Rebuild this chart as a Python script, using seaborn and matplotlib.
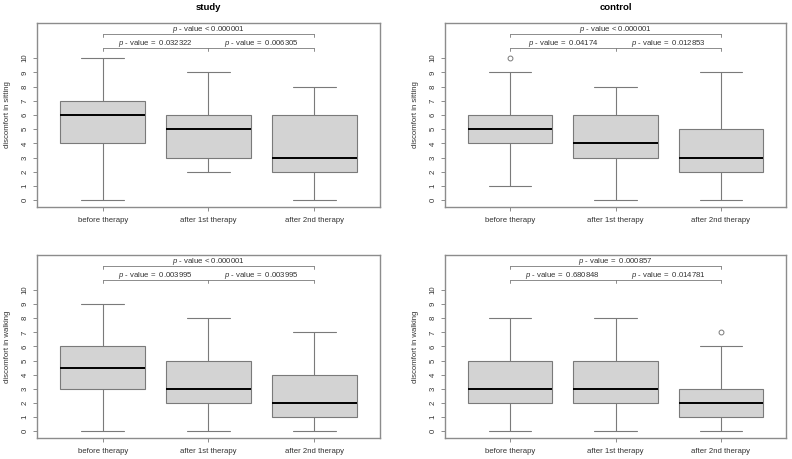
import matplotlib
matplotlib.use('Agg')
import matplotlib.pyplot as plt
import seaborn as sns
import pandas as pd

# categories on the x axis
phases = ['before therapy', 'after 1st therapy', 'after 2nd therapy']

# per-phase scores, chosen so the box summaries match the picture
study_sitting = [[0, 3, 4, 5, 6, 6, 7, 8, 10],
                 [2, 3, 3, 4, 5, 5, 6, 7, 9],
                 [0, 1, 2, 3, 3, 4, 6, 7, 8]]
control_sitting = [[1, 4, 4, 5, 5, 6, 6, 9, 10],
                   [0, 2, 3, 4, 4, 5, 6, 7, 8],
                   [0, 1, 2, 3, 3, 4, 5, 7, 9]]
study_walking = [[0, 3, 3, 3, 4, 5, 6, 6, 6, 9],
                 [0, 1, 2, 3, 3, 4, 5, 6, 8],
                 [0, 1, 1, 2, 2, 3, 4, 5, 7]]
control_walking = [[0, 1, 2, 3, 3, 4, 5, 6, 8],
                   [0, 1, 2, 3, 3, 4, 5, 6, 8],
                   [0, 1, 1, 2, 2, 3, 3, 6, 7]]

# p-value labels: (before vs 1st, 1st vs 2nd, before vs 2nd)
p_study_sitting = ['=  0.032322', '=  0.006305', '< 0.000001']
p_control_sitting = ['=  0.04174', '=  0.012853', '< 0.000001']
p_study_walking = ['=  0.003995', '=  0.003995', '< 0.000001']
p_control_walking = ['=  0.680848', '=  0.014781', '=  0.000857']

sns.set_style('white')
plt.rcParams['font.family'] = ['Liberation Sans', 'DejaVu Sans']
plt.rcParams['mathtext.fontset'] = 'custom'
plt.rcParams['mathtext.rm'] = 'Liberation Sans'
plt.rcParams['mathtext.it'] = 'Liberation Sans:italic'

LINE = '#7a7a7a'
FRAME = '#8c8c8c'
TXT = '#333333'
FS = 5.6


def to_frame(groups):
    rows = []
    for name, vals in zip(phases, groups):
        for v in vals:
            rows.append({'phase': name, 'score': v})
    return pd.DataFrame(rows)


def draw_panel(ax, groups, pvals, ylabel, title=None):
    df = to_frame(groups)
    sns.boxplot(data=df, x='phase', y='score', order=phases, ax=ax,
                color='#d3d3d3', saturation=1, width=0.8,
                linecolor=LINE, linewidth=0.8, whis=1.5,
                medianprops=dict(color='black', linewidth=1.4),
                flierprops=dict(marker='o', markerfacecolor='none',
                                markeredgecolor=LINE, markersize=3.5,
                                markeredgewidth=0.7))
    ax.set_xlim(-0.62, 2.62)
    ax.set_ylim(-0.48, 12.48)
    ax.set_yticks(range(11))
    ax.set_xlabel('')
    ax.set_ylabel(ylabel, fontsize=FS, color=TXT, labelpad=8)
    ax.tick_params(axis='y', left=True, labelrotation=90, labelsize=FS,
                   colors=TXT, length=3, width=0.6, color=LINE, pad=3)
    ax.tick_params(axis='x', bottom=True, labelsize=FS, colors=TXT,
                   length=3, width=0.6, color=LINE, pad=4)
    for lab in ax.get_yticklabels():
        lab.set_va('center')
    for sp in ax.spines.values():
        sp.set_visible(True)
        sp.set_color(FRAME)
        sp.set_linewidth(1.0)

    # comparison brackets
    tick = 0.18
    low, high = 10.7, 11.7
    ax.plot([0, 2], [low, low], color=LINE, lw=0.6)
    for xx in (0, 1, 2):
        ax.plot([xx, xx], [low, low - tick], color=LINE, lw=0.6)
    ax.plot([0, 2], [high, high], color=LINE, lw=0.6)
    for xx in (0, 2):
        ax.plot([xx, xx], [high, high - tick], color=LINE, lw=0.6)
    ax.text(0.5, 11.02, r'$p$ - value ' + pvals[0], ha='center', va='center',
            fontsize=FS, color=TXT)
    ax.text(1.5, 11.02, r'$p$ - value ' + pvals[1], ha='center', va='center',
            fontsize=FS, color=TXT)
    ax.text(1.0, 12.02, r'$p$ - value ' + pvals[2], ha='center', va='center',
            fontsize=FS, color=TXT)
    if title:
        ax.set_title(title, fontsize=6.8, fontweight='bold', color='black',
                     pad=9)


fig = plt.figure(figsize=(7.92, 4.59), dpi=100)
ax1 = fig.add_axes([0.0467, 0.549, 0.4331, 0.401])
ax2 = fig.add_axes([0.5619, 0.549, 0.4306, 0.401])
ax3 = fig.add_axes([0.0467, 0.0458, 0.4331, 0.3986])
ax4 = fig.add_axes([0.5619, 0.0458, 0.4306, 0.3986])

draw_panel(ax1, study_sitting, p_study_sitting, 'discomfort in sitting', 'study')
draw_panel(ax2, control_sitting, p_control_sitting, 'discomfort in sitting', 'control')
draw_panel(ax3, study_walking, p_study_walking, 'discomfort in walking')
draw_panel(ax4, control_walking, p_control_walking, 'discomfort in walking')

fig.savefig('out.png', dpi=100)
